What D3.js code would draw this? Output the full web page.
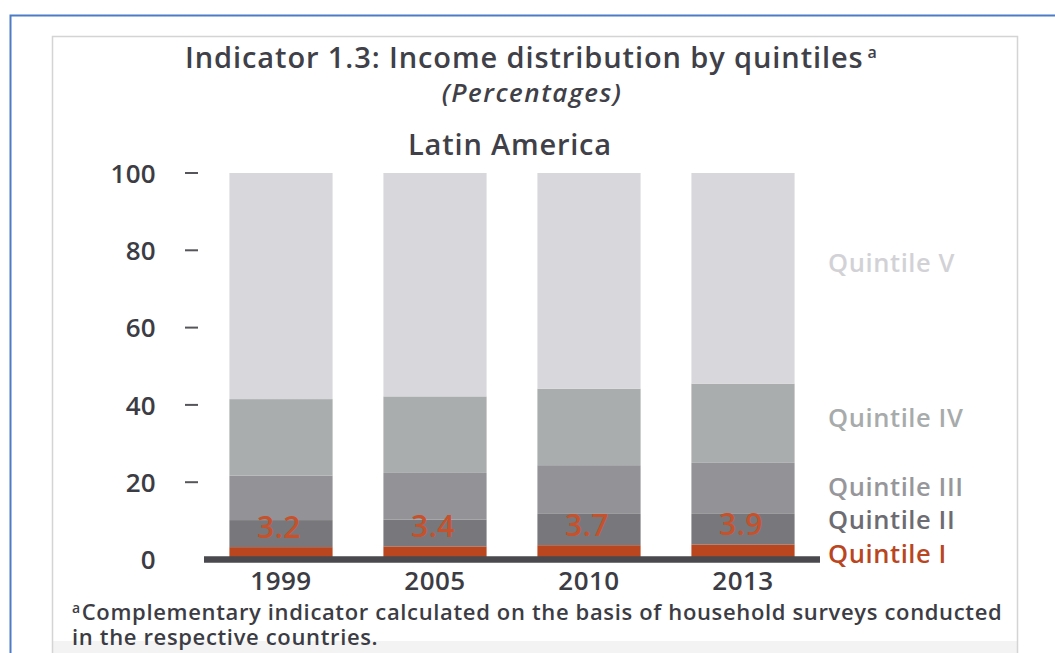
<!DOCTYPE html>
<html>
<head>
<meta charset="utf-8">
<script src="https://cdn.jsdelivr.net/npm/d3@7/dist/d3.min.js"></script>
<style>
  html, body { margin: 0; padding: 0; background: #ffffff; }
  svg { display: block; }
  svg text { font-family: "Open Sans", "DejaVu Sans", sans-serif; }
</style>
</head>
<body>
<svg id="chart" width="1055" height="653"></svg>
<script>
// Income share of each quintile, Latin America (percentages)
const years = ["1999", "2005", "2010", "2013"];
const quintileI   = [3.2, 3.4, 3.7, 3.9];
const quintileII  = [7.0, 6.9, 8.1, 7.9];
const quintileIII = [11.5, 12.1, 12.6, 13.2];
const quintileIV  = [19.8, 19.8, 19.8, 20.5];
const quintileV   = [58.5, 57.8, 55.8, 54.5];
const quintileNames = ["Quintile I", "Quintile II", "Quintile III", "Quintile IV", "Quintile V"];
const yTicks = [0, 20, 40, 60, 80, 100];

const series = [quintileI, quintileII, quintileIII, quintileIV, quintileV];
const barColors   = ["#b9461f", "#78787c", "#939397", "#a9adad", "#d8d8dc"];
const labelColors = ["#b9461f", "#6c6c72", "#97979b", "#a7abab", "#d2d2d6"];
const FONT = '"Open Sans", "DejaVu Sans", sans-serif';

const svg = d3.select("#chart");

// page frame
svg.append("rect").attr("x", 0).attr("y", 0).attr("width", 1055).attr("height", 653).attr("fill", "#ffffff");
svg.append("rect").attr("x", 52).attr("y", 641).attr("width", 965).attr("height", 12).attr("fill", "#f3f3f3");
svg.append("path").attr("d", "M10.5,653 V15.5 H1055").attr("fill", "none").attr("stroke", "#4d7cc6").attr("stroke-width", 2);
svg.append("path").attr("d", "M52.5,653 V36.5 H1017.5 V653").attr("fill", "none").attr("stroke", "#d4d4d4").attr("stroke-width", 1.5);

// table rows for stacking
const rows = years.map((yr, i) => {
  const r = { year: yr };
  quintileNames.forEach((q, k) => { r[q] = series[k][i]; });
  return r;
});
const stacked = d3.stack().keys(quintileNames)(rows);

const x = d3.scaleBand().domain(years).range([204, 820]).paddingInner(0.33).paddingOuter(0.165);
const y = d3.scaleLinear().domain([0, 100]).range([559.5, 173]);

// stacked bars
svg.append("g").selectAll("g")
  .data(stacked)
  .join("g")
    .attr("fill", (d, k) => barColors[k])
  .selectAll("rect")
  .data(d => d)
  .join("rect")
    .attr("x", d => x(d.data.year))
    .attr("width", x.bandwidth())
    .attr("y", d => y(d[1]))
    .attr("height", d => y(d[0]) - y(d[1]));

// baseline
svg.append("line")
  .attr("x1", x.range()[0]).attr("x2", x.range()[1])
  .attr("y1", y(0)).attr("y2", y(0))
  .attr("stroke", "#4a4a4e").attr("stroke-width", 6.5);

// y axis: labels with short dashes
const yAxis = d3.axisLeft(y)
  .tickValues(yTicks)
  .tickSize(0)
  .tickPadding(0)
  .tickFormat(d3.format("d"));
const gy = svg.append("g").attr("transform", "translate(156,0)").call(yAxis)
  .attr("font-family", FONT);
gy.select(".domain").remove();
gy.selectAll("text")
  .attr("fill", "#3c3c44").attr("font-size", 26).attr("font-weight", 600)
  .attr("letter-spacing", 0.3)
  .attr("dy", "0.36em");
svg.append("g").selectAll("line")
  .data(yTicks.filter(t => t > 0))
  .join("line")
    .attr("x1", 185).attr("x2", 198)
    .attr("y1", d => y(d)).attr("y2", d => y(d))
    .attr("stroke", "#55555a").attr("stroke-width", 2);

// x axis labels
const xAxis = d3.axisBottom(x).tickSize(0).tickPadding(0);
const gx = svg.append("g").attr("transform", "translate(0,590)").call(xAxis)
  .attr("font-family", FONT);
gx.select(".domain").remove();
gx.selectAll("text")
  .attr("fill", "#3c3c44").attr("font-size", 26).attr("font-weight", 600)
  .attr("letter-spacing", 0.5)
  .attr("dy", 0);

// Quintile I values
svg.append("g").selectAll("text")
  .data(years)
  .join("text")
    .attr("x", d => x(d) + x.bandwidth() / 2 - 2)
    .attr("y", (d, i) => y(quintileI[i]) - 9)
    .attr("text-anchor", "middle")
    .attr("font-size", 30)
    .attr("font-weight", 600)
    .attr("letter-spacing", 0.5)
    .attr("fill", "#c6512b")
    .text((d, i) => d3.format(".1f")(quintileI[i]));

// quintile names on the right
const legendY = [563, 529, 496, 427, 272];
svg.append("g").selectAll("text")
  .data(quintileNames)
  .join("text")
    .attr("x", 828)
    .attr("y", (d, k) => legendY[k])
    .attr("font-size", 25.5)
    .attr("font-weight", 600)
    .attr("letter-spacing", 0.6)
    .attr("fill", (d, k) => labelColors[k])
    .text(d => d);

// titles
const title = svg.append("text")
  .attr("x", 185).attr("y", 68)
  .attr("font-size", 29).attr("font-weight", 600).attr("letter-spacing", 0.9)
  .attr("fill", "#404048");
title.append("tspan").text("Indicator 1.3: Income distribution by quintiles");
title.append("tspan").attr("dx", 4).attr("dy", -10).attr("font-size", 16).attr("letter-spacing", 0).text("a");

svg.append("text")
  .attr("x", 532).attr("y", 102)
  .attr("text-anchor", "middle")
  .attr("font-size", 26).attr("font-style", "italic").attr("font-weight", 600)
  .attr("letter-spacing", 1.5)
  .attr("fill", "#404048")
  .text("(Percentages)");

svg.append("text")
  .attr("x", 510).attr("y", 155)
  .attr("text-anchor", "middle")
  .attr("font-size", 29).attr("font-weight", 600).attr("letter-spacing", 0.8)
  .attr("fill", "#404048")
  .text("Latin America");

// footnote
const note = svg.append("text")
  .attr("x", 72).attr("y", 620)
  .attr("font-size", 22).attr("font-weight", 600).attr("letter-spacing", 0.65)
  .attr("fill", "#3c3c44");
note.append("tspan").attr("dy", -7).attr("font-size", 14).text("a");
note.append("tspan").attr("dy", 7).attr("dx", 1).text("Complementary indicator calculated on the basis of household surveys conducted");
svg.append("text")
  .attr("x", 72).attr("y", 645)
  .attr("font-size", 22).attr("font-weight", 600).attr("letter-spacing", 0.65)
  .attr("fill", "#3c3c44")
  .text("in the respective countries.");
</script>
</body>
</html>
